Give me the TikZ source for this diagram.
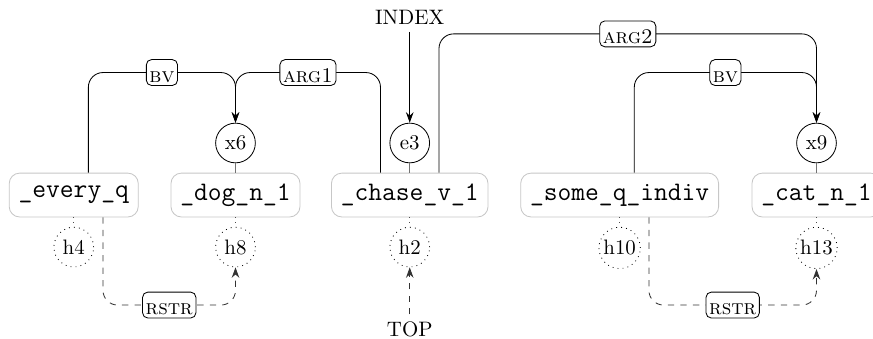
\documentclass[tikz,border=0pt]{standalone}
\usepackage{amsmath,amssymb}
\usetikzlibrary{arrows.meta,positioning}

\begin{document}
\begin{tikzpicture}[>={Stealth[length=5pt,width=3.6pt]},
  pred/.style={draw=black!22,fill=white,rounded corners=5pt,inner xsep=4.5pt,minimum height=21pt,
    font=\fontsize{12.8}{15}\selectfont\ttfamily},
  var/.style={circle,draw,inner sep=1pt,minimum size=19pt},
  hole/.style={circle,draw,dotted,inner sep=1pt,minimum size=19pt},
  rel/.style={draw=black,solid,text=black,fill=white,rounded corners=2.5pt,inner xsep=1.5pt,
    inner ysep=0.8pt,text height=10pt,text depth=0.8pt,font=\scshape}]
\useasboundingbox (0,0) rectangle (14.68,5.70);
\node[pred] (every) at (1.24,2.42) {\_every\_q};
\node[pred] (dog) at (3.96,2.42) {\_dog\_n\_1};
\node[pred] (chase) at (6.89,2.42) {\_chase\_v\_1};
\node[pred] (some) at (10.42,2.42) {\_some\_q\_indiv};
\node[pred] (cat) at (13.73,2.42) {\_cat\_n\_1};
\node[var,above=4.5pt of dog] (x6) {x6};
\node[var,above=4.5pt of chase] (e3) {e3};
\node[var,above=4.5pt of cat] (x9) {x9};
\node[hole,below=4.5pt of every] (h4) {h4};
\node[hole,below=4.5pt of dog] (h8) {h8};
\node[hole,below=4.5pt of chase] (h2) {h2};
\node[hole,below=4.5pt of some] (h10) {h10};
\node[hole,below=4.5pt of cat] (h13) {h13};
\node (index) at (6.89,5.41) {INDEX};
\node (top) at (6.89,0.16) {TOP};
\coordinate (lvbv) at (0,4.48);
\coordinate (lvarg) at (0,5.13);
\coordinate (lvrstr) at (0,0.57);
\draw[black!55] (x6) -- (dog); \draw[black!55] (e3) -- (chase); \draw[black!55] (x9) -- (cat);
\draw[dotted,black!70] (every) -- (h4); \draw[dotted,black!70] (dog) -- (h8);
\draw[dotted,black!70] (chase) -- (h2); \draw[dotted,black!70] (some) -- (h10);
\draw[dotted,black!70] (cat) -- (h13);
\draw[->,rounded corners=7pt] ([xshift=7pt]every.north) |- node[rel,pos=.75]{bv} (x6 |- lvbv) -- (x6);
\draw[->,rounded corners=7pt] ([xshift=-14pt]chase.north) |- node[rel,pos=.75]{arg1} (x6 |- lvbv) -- (x6);
\draw[->,rounded corners=7pt] ([xshift=14pt]chase.north) |- node[rel,pos=.75]{arg2} (x9 |- lvarg) -- (x9);
\draw[->,rounded corners=7pt] ([xshift=7pt]some.north) |- node[rel,pos=.75]{bv} (x9 |- lvbv) -- (x9);
\draw[->] (index) -- (e3);
\draw[->,dashed,black!80] (top) -- (h2);
\draw[->,dashed,black!80,rounded corners=7pt] ([xshift=14pt]every.south) |- node[rel,pos=.75]{rstr} (h8 |- lvrstr) -- (h8);
\draw[->,dashed,black!80,rounded corners=7pt] ([xshift=14pt]some.south) |- node[rel,pos=.75]{rstr} (h13 |- lvrstr) -- (h13);
\end{tikzpicture}
\end{document}
